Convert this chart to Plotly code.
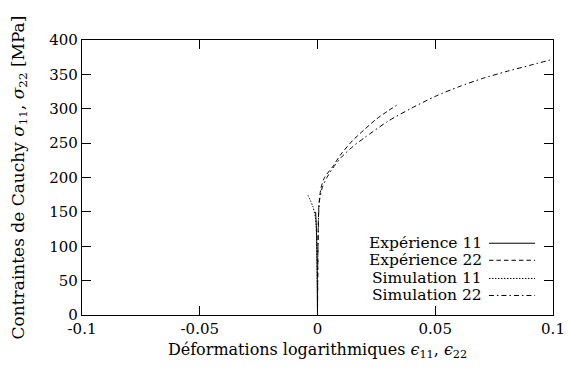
import plotly.graph_objects as go

# ---- data ----
series_names = ["Expérience 11", "Expérience 22", "Simulation 11", "Simulation 22"]

exp11_x = [0, -0.0001, -0.0003, -0.0005, -0.0008]
exp11_y = [0, 50, 100, 130, 150]

exp22_x = [0, 0.0002, 0.0006, 0.0015, 0.003, 0.0065, 0.01, 0.015, 0.02, 0.025, 0.03, 0.0336]
exp22_y = [0, 100, 160, 185, 200, 216, 234, 254, 270, 285, 297, 305]

sim11_x = [0, -0.0003, -0.0008, -0.002, -0.004]
sim11_y = [0, 100, 140, 158, 174]

sim22_x = [0, 0.0003, 0.0008, 0.002, 0.004, 0.007, 0.01, 0.015, 0.02, 0.03, 0.04, 0.05,
           0.06, 0.07, 0.08, 0.09, 0.1]
sim22_y = [0, 120, 165, 185, 200, 216, 229, 245, 258, 282, 301, 318,
           332, 344, 354, 363, 372]

x_tickvals = [-0.1, -0.05, 0, 0.05, 0.1]
x_ticktext = ["-0.1", "-0.05", "0", "0.05", "0.1"]
y_tickvals = [0, 50, 100, 150, 200, 250, 300, 350, 400]
y_ticktext = ["0", "50", "100", "150", "200", "250", "300", "350", "400"]

# ---- styles ----
dashes = ["solid", "4.5px,3px", "1.5px,1.5px", "5px,3px,1.5px,3px"]
FONT = "DejaVu Serif"

fig = go.Figure()
all_x = [exp11_x, exp22_x, sim11_x, sim22_x]
all_y = [exp11_y, exp22_y, sim11_y, sim22_y]
for name, xs, ys, d in zip(series_names, all_x, all_y, dashes):
    fig.add_trace(go.Scatter(x=xs, y=ys, mode="lines", name=name, showlegend=False,
                             line=dict(color="black", width=1, dash=d,
                                       shape="spline", smoothing=0.7)))

# gnuplot-style legend: text right-aligned, sample on the right
row_y = [0.261, 0.199, 0.133, 0.071]
for name, d, yy in zip(series_names, dashes, row_y):
    fig.add_annotation(xref="paper", yref="paper", x=0.853, y=yy, text=name,
                       showarrow=False, xanchor="right", yanchor="middle",
                       font=dict(family=FONT, size=15.5, color="black"))
    fig.add_shape(type="line", xref="paper", yref="paper", x0=0.864, x1=0.962,
                  y0=yy, y1=yy, line=dict(color="black", width=1, dash=d))

axis_common = dict(showgrid=False, zeroline=False, showline=True, linecolor="black",
                   linewidth=1.3, mirror="ticks", ticks="inside", ticklen=9,
                   tickwidth=1, tickcolor="black", automargin=False,
                   tickfont=dict(family=FONT, size=15, color="black"))

fig.update_xaxes(range=[-0.1, 0.1], tickvals=x_tickvals, ticktext=x_ticktext,
                 title=dict(text="Déformations logarithmiques <i>ϵ</i><sub>11</sub>, <i>ϵ</i><sub>22</sub>",
                            font=dict(family=FONT, size=16, color="black"), standoff=6),
                 **axis_common)
fig.update_yaxes(range=[0, 400], tickvals=y_tickvals, ticktext=y_ticktext,
                 title=dict(text="Contraintes de Cauchy <i>σ</i><sub>11</sub>, <i>σ</i><sub>22</sub> [MPa]",
                            font=dict(family=FONT, size=17, color="black"), standoff=20),
                 **axis_common)

fig.update_layout(width=568, height=370, margin=dict(l=82, r=15, t=40, b=55),
                  plot_bgcolor="white", paper_bgcolor="white")

fig.write_html("out.html", config={"displayModeBar": False},
               post_script="document.body.style.margin='0';document.body.style.padding='0';")
